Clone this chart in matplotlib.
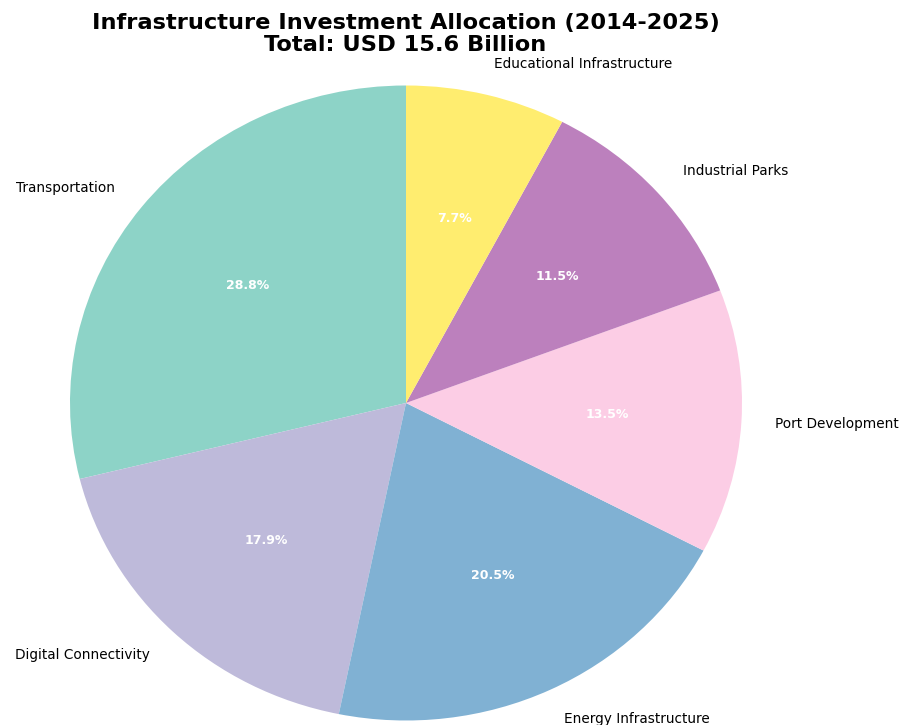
import matplotlib
matplotlib.use("Agg")
import matplotlib.pyplot as plt
import numpy as np

# investment by sector, USD billion
sectors = ["Transportation", "Digital Connectivity", "Energy Infrastructure",
           "Port Development", "Industrial Parks", "Educational Infrastructure"]
amounts = [4.5, 2.8, 3.2, 2.1, 1.8, 1.2]

colors = plt.cm.Set3(np.linspace(0, 1, len(sectors)))

fig = plt.figure(figsize=(9.03, 7.25), dpi=100)
ax = fig.add_axes([0, 0, 1, 1])

wedges, texts, autotexts = ax.pie(
    amounts, labels=sectors, colors=colors, autopct="%1.1f%%",
    startangle=90, counterclock=True,
    textprops={"fontsize": 9.8},
)
for t in autotexts:
    t.set_color("white")
    t.set_fontweight("bold")
    t.set_fontsize(9)

# slightly stretched pie like the reference
ax.set_aspect("auto")
ax.set_xlim(-406 / 336, (903 - 406) / 336)
ax.set_ylim(-322 / 317.5, (725 - 322) / 317.5)

fig.text(0.449, 0.982,
         f"Infrastructure Investment Allocation (2014-2025)\nTotal: USD {sum(amounts):.1f} Billion",
         ha="center", va="top", fontsize=16.2, fontweight="bold", linespacing=1.1)

fig.savefig("out.png", dpi=100)
